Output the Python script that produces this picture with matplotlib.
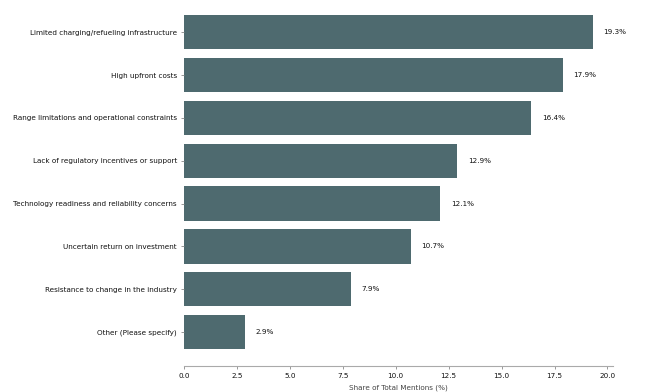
import matplotlib
matplotlib.use("Agg")
import matplotlib.pyplot as plt

categories = [
    "Limited charging/refueling infrastructure",
    "High upfront costs",
    "Range limitations and operational constraints",
    "Lack of regulatory incentives or support",
    "Technology readiness and reliability concerns",
    "Uncertain return on investment",
    "Resistance to change in the industry",
    "Other (Please specify)",
]
shares = [19.3, 17.9, 16.4, 12.9, 12.1, 10.7, 7.9, 2.9]
xticks = [0.0, 2.5, 5.0, 7.5, 10.0, 12.5, 15.0, 17.5, 20.0]

bar_color = "#4e6a6f"
fs = 5.2

fig = plt.figure(figsize=(6.5, 3.92), dpi=100)
ax = fig.add_axes([0.283, 0.0663, 0.660, 0.8954])

ypos = list(range(len(categories)))
ax.barh(ypos, shares, height=0.8, color=bar_color)
for y, v in zip(ypos, shares):
    ax.text(v + 0.5, y, f"{v:.1f}%", va="center", ha="left", fontsize=fs, color="#111111")

ax.set_yticks(ypos)
ax.set_yticklabels(categories, fontsize=fs, color="#111111")
ax.set_ylim(7.79, -0.4)
ax.set_xlim(0, 20.26)
ax.set_xticks(xticks)
ax.set_xticklabels([f"{t:.1f}" for t in xticks], fontsize=fs, color="#111111")
ax.set_xlabel("Share of Total Mentions (%)", fontsize=fs, color="#444444", labelpad=4)

for s in ["top", "right", "left"]:
    ax.spines[s].set_visible(False)
ax.spines["bottom"].set_color("#aaaaaa")
ax.tick_params(axis="both", length=2.5, width=0.6, color="#888888", pad=2.5)

fig.savefig("out.png", dpi=100)
